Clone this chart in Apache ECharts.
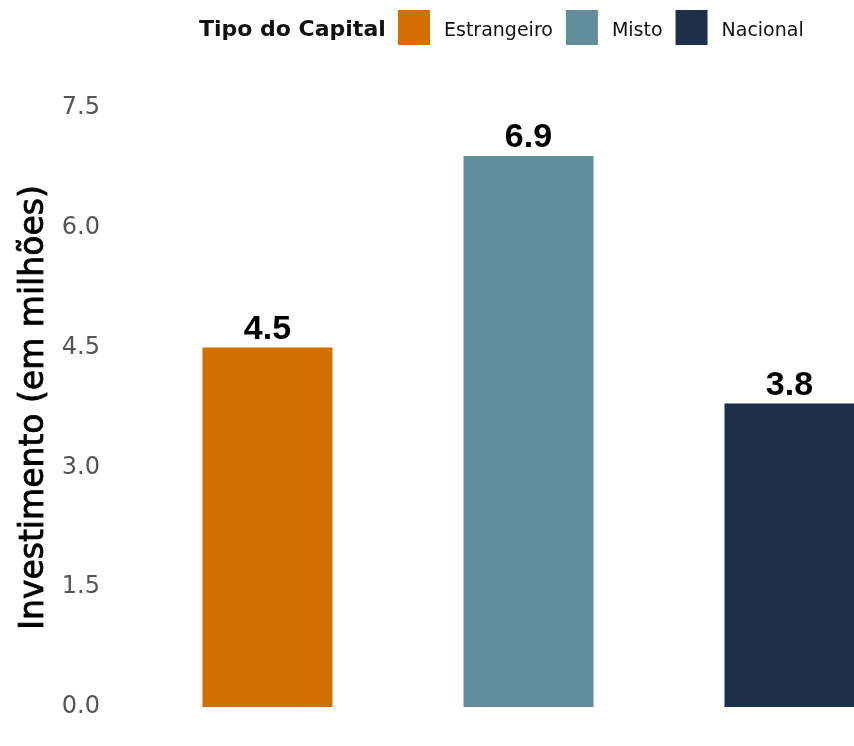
<!DOCTYPE html>
<html>
<head>
<meta charset="utf-8">
<script src="https://cdn.jsdelivr.net/npm/echarts@6/dist/echarts.min.js"></script>
<style>
  html, body { margin: 0; padding: 0; background: #fff; }
  #chart { width: 854px; height: 746px; }
</style>
</head>
<body>
<div id="chart"></div>
<script>
// dados do gráfico
const categorias = ['Estrangeiro', 'Misto', 'Nacional'];
const investimento = [4.5, 6.9, 3.8];
const cores = ['#D36F00', '#628C99', '#1D3047'];

const chart = echarts.init(document.getElementById('chart'));

const series = categorias.map((nome, i) => ({
  name: nome,
  type: 'bar',
  stack: 'total',
  barWidth: 130,
  itemStyle: { color: cores[i] },
  label: {
    show: true,
    position: 'top',
    distance: 1,
    fontFamily: 'Arial, "Liberation Sans", sans-serif',
    fontWeight: 'bold',
    fontSize: 34,
    color: '#000',
    formatter: p => p.value.toFixed(1),
  },
  data: categorias.map((c, j) => (j === i ? investimento[i] : '-')),
}));

chart.setOption({
  backgroundColor: '#fff',
  textStyle: { fontFamily: 'DejaVu Sans' },
  graphic: [{
    type: 'text',
    left: 199,
    top: 19,
    style: { text: 'Tipo do Capital', font: 'bold 22px "DejaVu Sans"', fill: '#111' },
  }],
  legend: {
    left: 398,
    top: 10,
    padding: 0,
    itemWidth: 32,
    itemHeight: 35,
    itemGap: 13,
    icon: 'rect',
    formatter: '{t|{name}}',
    textStyle: {
      fontSize: 19, color: '#111', fontFamily: 'DejaVu Sans',
      rich: { t: { fontSize: 19, color: '#111', fontFamily: 'DejaVu Sans', padding: [8, 0, 0, 9] } },
    },
    data: categorias,
  },
  grid: { left: 137, right: -66, top: 108, bottom: 39, containLabel: false, outerBoundsMode: 'none' },
  xAxis: {
    type: 'category',
    data: categorias,
    axisLine: { show: false },
    axisTick: { show: false },
    axisLabel: { show: false },
    splitLine: { show: false },
  },
  yAxis: {
    type: 'value',
    min: 0,
    max: 7.5,
    interval: 1.5,
    name: 'Investimento (em milhões)',
    nameLocation: 'middle',
    nameRotate: 90,
    nameGap: 86,
    nameTextStyle: {
      fontSize: 33, color: '#000', fontFamily: 'DejaVu Sans',
      textBorderColor: '#000', textBorderWidth: 0.8,
    },
    axisLine: { show: false },
    axisTick: { show: false },
    splitLine: { show: false },
    axisLabel: {
      margin: 37,
      fontSize: 24,
      color: '#555',
      fontFamily: 'DejaVu Sans',
      formatter: v => v.toFixed(1),
    },
  },
  series,
});

window.addEventListener('resize', () => chart.resize());
</script>
</body>
</html>
